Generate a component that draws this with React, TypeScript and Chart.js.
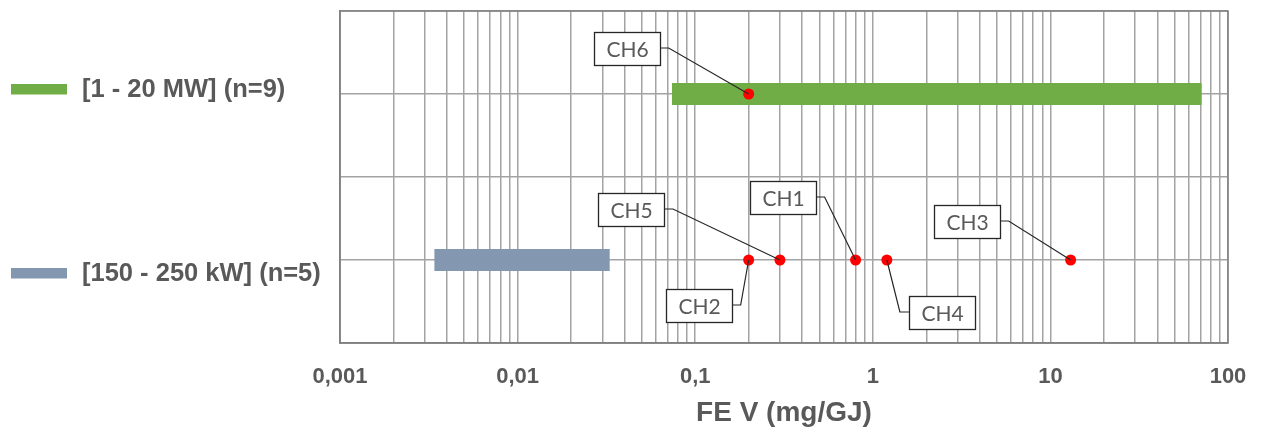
import React, { useEffect, useRef } from 'react';
import { Chart, registerables } from 'chart.js';

Chart.register(...registerables);

// ---- data ----
const groupLabels = ['[1 - 20 MW] (n=9)', '[150 - 250 kW] (n=5)'];
const groupPositions = [3, 1];
const groupColors = ['#70AD47', '#8497B0'];
const rangeLow = [0.074, 0.0034];
const rangeHigh = [71, 0.033];

const pointNames = ['CH6', 'CH5', 'CH2', 'CH1', 'CH4', 'CH3'];
const pointValues = [0.2, 0.3, 0.2, 0.8, 1.2, 13];
const pointGroups = [0, 1, 1, 1, 1, 1];

const xMajorValues = [0.001, 0.01, 0.1, 1, 10, 100];
const xMajorLabels = ['0,001', '0,01', '0,1', '1', '10', '100'];
const xTitle = 'FE V (mg/GJ)';

// ---- layout (pixel offsets of callout box centers from their points) ----
const calloutOffsets = [
  [-122, -46],
  [-149, -51],
  [-50, 45],
  [-73, -63],
  [55, 52],
  [-104, -39],
];
const legendOffsets = [-5, 13];

const TEXT = '#595959';
const GRID = '#A3A3A3';
const BORDER = '#808080';

const annotPlugin = {
  id: 'annot',
  afterDatasetsDraw(chart: any) {
    const ctx = chart.ctx;
    const xs = chart.scales.x;
    const ys = chart.scales.y;
    const ca = chart.chartArea;
    ctx.save();
    // plot border
    ctx.strokeStyle = BORDER;
    ctx.lineWidth = 1.5;
    ctx.strokeRect(ca.left, ca.top, ca.right - ca.left, ca.bottom - ca.top);
    ctx.font = '21px Lato';
    // leader lines
    pointNames.forEach((name, i) => {
      const px = xs.getPixelForValue(pointValues[i]);
      const py = ys.getPixelForValue(groupPositions[pointGroups[i]]);
      const w = Math.round(ctx.measureText(name).width + 24);
      const cx = px + calloutOffsets[i][0];
      const cy = py + calloutOffsets[i][1];
      const left = cx - w / 2;
      const right = cx + w / 2;
      let sx = right, stub = right + 9;
      if (px < left) { sx = left; stub = left - 9; }
      ctx.beginPath();
      ctx.strokeStyle = '#262626';
      ctx.lineWidth = 1.2;
      ctx.moveTo(sx, cy);
      ctx.lineTo(stub, cy);
      ctx.lineTo(px, py);
      ctx.stroke();
    });
    // callout boxes
    pointNames.forEach((name, i) => {
      const px = xs.getPixelForValue(pointValues[i]);
      const py = ys.getPixelForValue(groupPositions[pointGroups[i]]);
      const w = Math.round(ctx.measureText(name).width + 24);
      const h = 33;
      const cx = px + calloutOffsets[i][0];
      const cy = py + calloutOffsets[i][1];
      const l = Math.round(cx - w / 2) + 0.5;
      const t = Math.round(cy - h / 2) + 0.5;
      ctx.fillStyle = '#FFFFFF';
      ctx.fillRect(l, t, w, h);
      ctx.strokeStyle = '#262626';
      ctx.lineWidth = 1.3;
      ctx.strokeRect(l, t, w, h);
      ctx.fillStyle = TEXT;
      ctx.textAlign = 'center';
      ctx.textBaseline = 'middle';
      ctx.fillText(name, l + w / 2, t + h / 2 + 1);
    });
    // left group labels
    ctx.font = 'bold 25.5px "Liberation Sans", Arial, sans-serif';
    groupLabels.forEach((label, i) => {
      const cy = ys.getPixelForValue(groupPositions[i]) + legendOffsets[i];
      ctx.fillStyle = groupColors[i];
      ctx.fillRect(11, cy - 5, 56, 10.5);
      ctx.fillStyle = TEXT;
      ctx.textAlign = 'left';
      ctx.textBaseline = 'middle';
      ctx.fillText(label, 82, cy + 1);
    });
    ctx.restore();
  },
};

export default function App() {
  const ref = useRef<HTMLCanvasElement | null>(null);

  useEffect(() => {
    if (!ref.current) return;
    const rangeSets = groupLabels.map((label, i) => ({
      type: 'line' as const,
      label,
      data: [
        { x: rangeLow[i], y: groupPositions[i] },
        { x: rangeHigh[i], y: groupPositions[i] },
      ],
      borderColor: groupColors[i],
      backgroundColor: groupColors[i],
      borderWidth: 22,
      borderCapStyle: 'butt' as const,
      pointRadius: 0,
      fill: false,
      order: 2,
    }));
    const pointSet = {
      type: 'scatter' as const,
      label: 'points',
      data: pointValues.map((v, i) => ({ x: v, y: groupPositions[pointGroups[i]] })),
      pointRadius: 5.5,
      pointBackgroundColor: '#FF0000',
      pointBorderColor: '#FF0000',
      pointBorderWidth: 0,
      showLine: false,
      order: 1,
    };

    const chart = new Chart(ref.current, {
      type: 'line',
      data: { datasets: [...rangeSets, pointSet] as any },
      plugins: [annotPlugin],
      options: {
        animation: false,
        responsive: true,
        maintainAspectRatio: false,
        layout: { padding: { left: 340, right: 33, top: 11, bottom: 0 } },
        plugins: {
          legend: { display: false },
          tooltip: { enabled: false },
        },
        scales: {
          x: {
            type: 'logarithmic',
            min: xMajorValues[0],
            max: xMajorValues[xMajorValues.length - 1],
            afterBuildTicks: (scale: any) => {
              const ticks: { value: number }[] = [];
              xMajorValues.forEach((m, i) => {
                if (i === xMajorValues.length - 1) {
                  ticks.push({ value: m });
                } else {
                  for (let k = 1; k <= 9; k++) ticks.push({ value: k * m });
                }
              });
              scale.ticks = ticks;
            },
            afterFit: (scale: any) => {
              scale.height = 87;
              scale.paddingLeft = 0;
              scale.paddingRight = 0;
            },
            ticks: {
              autoSkip: false,
              maxRotation: 0,
              padding: 21,
              color: TEXT,
              font: { family: '"Liberation Sans", Arial, sans-serif', size: 22, weight: 'bold' },
              callback: (value: any) => {
                const idx = xMajorValues.findIndex((m) => Math.abs(m - Number(value)) < m * 1e-6);
                return idx >= 0 ? xMajorLabels[idx] : '';
              },
            },
            grid: { color: GRID, lineWidth: 1.5, drawTicks: false },
            border: { color: BORDER, width: 1.5 },
            title: {
              display: true,
              text: xTitle,
              color: TEXT,
              font: { family: '"Liberation Sans", Arial, sans-serif', size: 28, weight: 'bold' },
              padding: { top: 0, bottom: 0 },
            },
          },
          y: {
            type: 'linear',
            min: 0,
            max: 4,
            ticks: { display: false, stepSize: 1 },
            grid: { color: GRID, lineWidth: 1.5, drawTicks: false },
            border: { color: BORDER, width: 1.5 },
            afterFit: (scale: any) => {
              scale.width = 0;
            },
          },
        },
      } as any,
    });
    return () => chart.destroy();
  }, []);

  return (
    <div style={{ position: 'fixed', left: 0, top: 0, width: 1261, height: 430 }}>
      <canvas ref={ref} />
    </div>
  );
}
